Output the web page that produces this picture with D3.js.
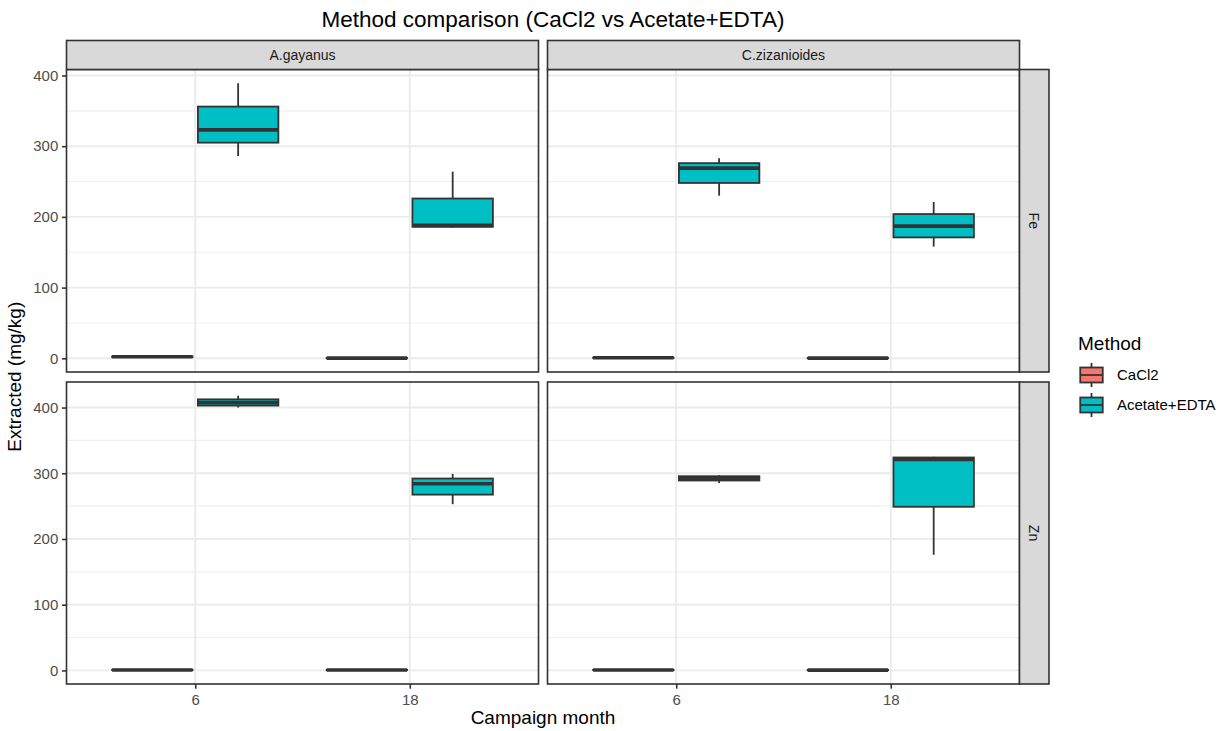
<!DOCTYPE html>
<html><head><meta charset="utf-8">
<script src="https://cdn.jsdelivr.net/npm/d3@7"></script>
<style>body{margin:0;background:#fff}svg{display:block;font-family:"Liberation Sans",Arial,sans-serif}</style>
</head><body><svg id="chart" width="1227" height="731"></svg>
<script>
// ---- data ----
const species = ["A.gayanus", "C.zizanioides"];
const elements = ["Fe", "Zn"];
const months = ["6", "18"];
const methods = ["CaCl2", "Acetate+EDTA"];
const methodColors = ["#F8766D", "#00BFC4"];
const yTicks = [0, 100, 200, 300, 400];
const yMinorTicks = [50, 150, 250, 350];
// five-number summaries [min, q1, median, q3, max]
// order: A.gayanus 6, A.gayanus 18, C.zizanioides 6, C.zizanioides 18
const feCaCl2   = [[1.2, 1.8, 2.2, 2.6, 3.0], [0.1, 0.2, 0.3, 0.4, 0.5], [0.4, 0.6, 0.8, 1.0, 1.2], [0.1, 0.2, 0.3, 0.4, 0.6]];
const feAcetate = [[286, 305, 323, 356, 389], [185, 186, 188, 226, 264], [230, 248, 269, 276, 283], [158, 171, 187, 204, 221]];
const znCaCl2   = [[0.3, 0.5, 0.7, 0.9, 1.1], [0.2, 0.4, 0.6, 0.8, 1.0], [0.3, 0.5, 0.6, 0.8, 1.0], [0.2, 0.4, 0.5, 0.7, 0.9]];
const znAcetate = [[400, 403, 407.5, 412.5, 418], [253, 267.5, 284, 292, 299], [285, 289, 292.5, 295.5, 297], [176, 249, 321, 324, 325]];

const statsByElement = { Fe: [feCaCl2, feAcetate], Zn: [znCaCl2, znAcetate] };

// ---- layout ----
const svg = d3.select("#chart");
const panelX = [[66.5, 538.5], [547.5, 1019.5]];
const panelY = [[69.5, 372], [382, 684]];
const stripTop = 40.5, stripRight = 1049;
const dark = "#333333";

const records = [];
elements.forEach((el, ei) => {
  species.forEach((sp, si) => {
    months.forEach((mo, mi) => {
      methods.forEach((me, ki) => {
        const s = statsByElement[el][ki][si * 2 + mi];
        records.push({ element: el, species: sp, month: mo, method: me, ki, min: s[0], q1: s[1], med: s[2], q3: s[3], max: s[4] });
      });
    });
  });
});

// y scales per element (free_y), with 5% expansion
const yScales = {};
elements.forEach((el, ei) => {
  const rs = records.filter(r => r.element === el);
  const lo = d3.min(rs, r => r.min), hi = d3.max(rs, r => r.max);
  const R = hi - lo;
  yScales[el] = d3.scaleLinear().domain([lo - 0.05 * R, hi + 0.05 * R]).range([panelY[ei][1], panelY[ei][0]]);
});

// title
svg.append("text").attr("x", 553).attr("y", 27).attr("text-anchor", "middle")
  .attr("font-size", 22.5).attr("fill", "#000").text("Method comparison (CaCl2 vs Acetate+EDTA)");

elements.forEach((el, ei) => {
  const y = yScales[el];
  const [py0, py1] = panelY[ei];
  species.forEach((sp, si) => {
    const [px0, px1] = panelX[si];
    const x = d3.scalePoint().domain(months).range([px0, px1]).padding(0.6);
    const step = x.step();
    const g = svg.append("g");
    g.append("rect").attr("x", px0).attr("y", py0).attr("width", px1 - px0).attr("height", py1 - py0).attr("fill", "#fff");
    // minor grid
    g.selectAll(".minor").data(yMinorTicks.filter(t => y(t) > py0 && y(t) < py1)).join("line")
      .attr("x1", px0).attr("x2", px1).attr("y1", d => y(d)).attr("y2", d => y(d))
      .attr("stroke", "#f0f0f0").attr("stroke-width", 1.1);
    // major grid
    g.selectAll(".major").data(yTicks).join("line")
      .attr("x1", px0).attr("x2", px1).attr("y1", d => y(d)).attr("y2", d => y(d))
      .attr("stroke", "#ebebeb").attr("stroke-width", 1.9);
    g.selectAll(".vmajor").data(months).join("line")
      .attr("x1", d => x(d)).attr("x2", d => x(d)).attr("y1", py0).attr("y2", py1)
      .attr("stroke", "#ebebeb").attr("stroke-width", 1.9);

    // boxes
    const rs = records.filter(r => r.element === el && r.species === sp);
    const bw = 0.375 * step;
    rs.forEach(r => {
      const cx = x(r.month) + (r.ki === 0 ? -0.2 : 0.2) * step;
      const bg = g.append("g");
      bg.append("line").attr("x1", cx).attr("x2", cx).attr("y1", y(r.max)).attr("y2", y(r.q3)).attr("stroke", dark).attr("stroke-width", 1.8);
      bg.append("line").attr("x1", cx).attr("x2", cx).attr("y1", y(r.q1)).attr("y2", y(r.min)).attr("stroke", dark).attr("stroke-width", 1.8);
      bg.append("rect").attr("x", cx - bw / 2).attr("width", bw)
        .attr("y", y(r.q3)).attr("height", Math.max(0.01, y(r.q1) - y(r.q3)))
        .attr("fill", methodColors[r.ki]).attr("stroke", dark).attr("stroke-width", 1.8);
      bg.append("line").attr("x1", cx - bw / 2).attr("x2", cx + bw / 2).attr("y1", y(r.med)).attr("y2", y(r.med))
        .attr("stroke", dark).attr("stroke-width", 3.6);
    });

    // panel border
    g.append("rect").attr("x", px0).attr("y", py0).attr("width", px1 - px0).attr("height", py1 - py0)
      .attr("fill", "none").attr("stroke", dark).attr("stroke-width", 1.6);

    // y axis on left column
    if (si === 0) {
      const ax = svg.append("g").attr("transform", `translate(${px0},0)`)
        .call(d3.axisLeft(y).tickValues(yTicks).tickSize(4.5).tickPadding(3.7));
      ax.select(".domain").remove();
      ax.selectAll("line").attr("stroke", dark).attr("stroke-width", 1.6);
      ax.selectAll("text").attr("font-size", 15).attr("fill", "#4d4d4d").attr("font-family", "Liberation Sans, Arial, sans-serif");
    }
    // x axis on bottom row
    if (ei === elements.length - 1) {
      const ax = svg.append("g").attr("transform", `translate(0,${py1})`)
        .call(d3.axisBottom(x).tickSize(4.7).tickPadding(5.3));
      ax.select(".domain").remove();
      ax.selectAll("line").attr("stroke", dark).attr("stroke-width", 1.6);
      ax.selectAll("text").attr("font-size", 15).attr("fill", "#4d4d4d").attr("font-family", "Liberation Sans, Arial, sans-serif");
    }
    // top strips
    if (ei === 0) {
      svg.append("rect").attr("x", px0).attr("y", stripTop).attr("width", px1 - px0).attr("height", py0 - stripTop)
        .attr("fill", "#d9d9d9").attr("stroke", dark).attr("stroke-width", 1.6);
      svg.append("text").attr("x", (px0 + px1) / 2).attr("y", (stripTop + py0) / 2).attr("dy", "0.35em")
        .attr("text-anchor", "middle").attr("font-size", 14).attr("fill", "#1a1a1a").text(sp);
    }
  });
  // right strips
  const sx0 = panelX[1][1];
  svg.append("rect").attr("x", sx0).attr("y", py0).attr("width", stripRight - sx0).attr("height", py1 - py0)
    .attr("fill", "#d9d9d9").attr("stroke", dark).attr("stroke-width", 1.6);
  const cy = (py0 + py1) / 2, cx = (sx0 + stripRight) / 2;
  svg.append("text").attr("transform", `translate(${cx},${cy}) rotate(90)`).attr("dy", "0.35em")
    .attr("text-anchor", "middle").attr("font-size", 14).attr("fill", "#1a1a1a").text(el);
});

// axis titles
svg.append("text").attr("x", (panelX[0][0] + panelX[1][1]) / 2).attr("y", 724).attr("text-anchor", "middle")
  .attr("font-size", 19).attr("fill", "#000").text("Campaign month");
svg.append("text").attr("transform", `translate(21,${(panelY[0][0] + panelY[1][1]) / 2}) rotate(-90)`)
  .attr("text-anchor", "middle").attr("font-size", 19).attr("fill", "#000").text("Extracted (mg/kg)");

// legend
const lg = svg.append("g");
lg.append("text").attr("x", 1078).attr("y", 350).attr("font-size", 19).attr("fill", "#000").text("Method");
const k = 30;
methods.forEach((m, i) => {
  const kx = 1076.5, ky = 360 + i * k;
  const cxk = kx + k / 2;
  lg.append("line").attr("x1", cxk).attr("x2", cxk).attr("y1", ky + 0.1 * k).attr("y2", ky + 0.25 * k).attr("stroke", dark).attr("stroke-width", 1.8);
  lg.append("line").attr("x1", cxk).attr("x2", cxk).attr("y1", ky + 0.75 * k).attr("y2", ky + 0.9 * k).attr("stroke", dark).attr("stroke-width", 1.8);
  lg.append("rect").attr("x", kx + 0.125 * k).attr("y", ky + 0.25 * k).attr("width", 0.75 * k).attr("height", 0.5 * k)
    .attr("fill", methodColors[i]).attr("stroke", dark).attr("stroke-width", 1.8);
  lg.append("line").attr("x1", kx + 0.125 * k).attr("x2", kx + 0.875 * k).attr("y1", ky + 0.5 * k).attr("y2", ky + 0.5 * k).attr("stroke", dark).attr("stroke-width", 1.8);
  lg.append("text").attr("x", 1117).attr("y", ky + k / 2).attr("dy", "0.35em").attr("font-size", 15).attr("fill", "#000").text(m);
});
</script></body></html>
